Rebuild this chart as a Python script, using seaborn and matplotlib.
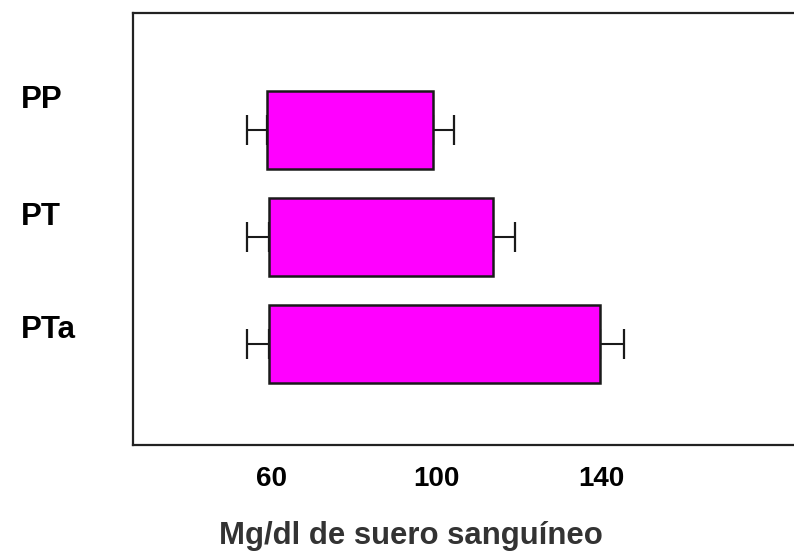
import matplotlib
matplotlib.use("Agg")
import matplotlib.pyplot as plt
import matplotlib.transforms as mtransforms
import numpy as np
import pandas as pd
import seaborn as sns

# ---- data ----
groups = ["PP", "PT", "PTa"]
start_vals = [59.0, 59.5, 59.5]      # left end of each floating bar
start_err = [4.8, 5.3, 5.3]          # error on the left end
end_vals = [99.3, 113.8, 139.8]      # right end of each floating bar
end_err = [5.1, 5.4, 5.8]            # error on the right end
x_ticks = [60, 100, 140]
x_tick_labels = ["60", "100", "140"]
x_label = "Mg/dl de suero sanguíneo"

df = pd.DataFrame({
    "group": groups,
    "start": start_vals,
    "end": end_vals,
})
df["span"] = df["end"] - df["start"]

sns.set_style("white")
plt.rcParams["font.family"] = ["Liberation Sans", "DejaVu Sans"]
plt.rcParams["font.weight"] = "bold"

W, H = 794, 551
fig = plt.figure(figsize=(W / 100, H / 100), dpi=100)
ax_left, ax_right, ax_top, ax_bottom = 133, 900, 13, 445
ax = fig.add_axes([ax_left / W, (H - ax_bottom) / H,
                   (ax_right - ax_left) / W, (ax_bottom - ax_top) / H])

sns.barplot(data=df, x="span", y="group", orient="h", order=groups,
            color="#FF00FF", saturation=1, edgecolor="#1a1a1a",
            linewidth=1.8, width=0.73, errorbar=None, ax=ax, zorder=2)

# move each bar so it starts at its left value
for patch, s in zip(ax.patches, df["start"]):
    patch.set_x(s)

ypos = np.arange(len(groups))
zeros = np.zeros(len(groups))
err_kw = dict(fmt="none", ecolor="#1a1a1a", elinewidth=1.5,
              capthick=1.6, capsize=11, zorder=1)
ax.errorbar(df["start"], ypos, xerr=[start_err, zeros], **err_kw)
ax.errorbar(df["end"], ypos, xerr=[zeros, end_err], **err_kw)

ax.set_xlim(26.5, 212.5)
ax.set_ylim(2.944, -1.093)

for side in ["left", "bottom", "top", "right"]:
    ax.spines[side].set_color("#222222")
    ax.spines[side].set_linewidth(1.6)

ax.set_xticks(x_ticks)
ax.set_xticklabels(x_tick_labels, fontsize=20, fontweight="bold", color="black")
ax.tick_params(axis="x", direction="in", length=5.5, width=1.8,
               color="#222222", pad=15)

ax.set_yticks(ypos)
ax.set_yticklabels(groups, fontsize=22.5, fontweight="bold", color="black")
ax.tick_params(axis="y", length=0, pad=81)
label_shift_px = [33, 23, 17]
for lab, dy in zip(ax.get_yticklabels(), label_shift_px):
    lab.set_horizontalalignment("left")
    lab.set_transform(lab.get_transform() +
                      mtransforms.ScaledTranslation(0, dy / 100, fig.dpi_scale_trans))

ax.set_ylabel("")
ax.set_xlabel(x_label, fontsize=22.4, fontweight="bold", color="#333333",
              va="baseline")
ax.xaxis.set_label_coords((411 - ax_left) / (ax_right - ax_left),
                          (ax_bottom - 544) / (ax_bottom - ax_top))

fig.savefig("out.png", dpi=100)
